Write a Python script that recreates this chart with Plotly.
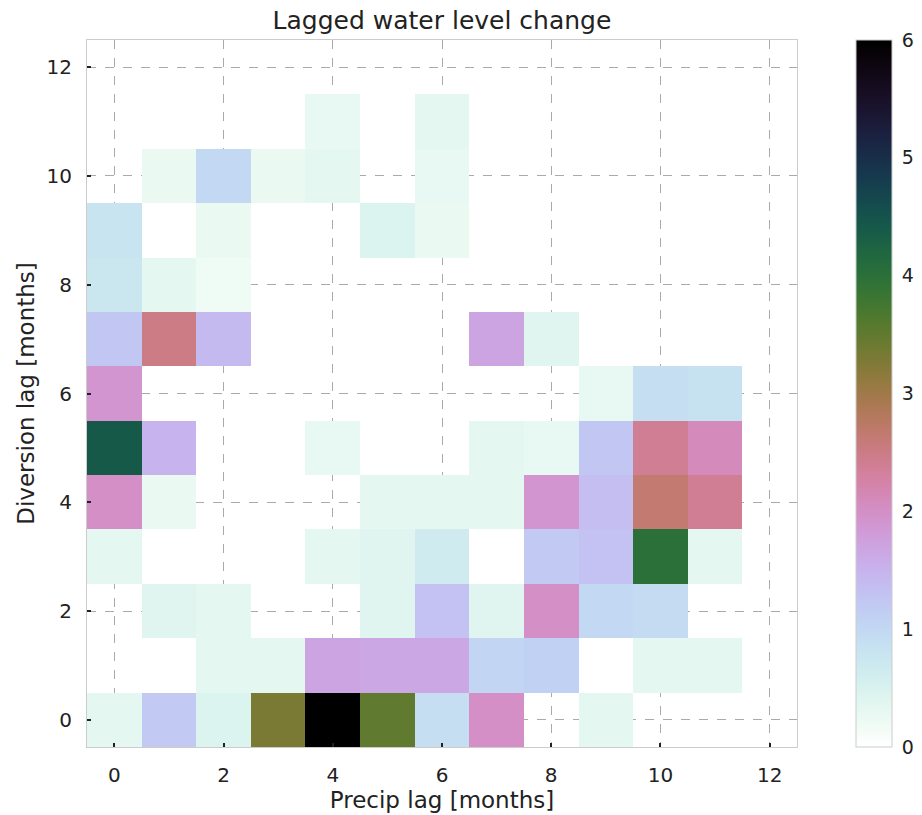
import numpy as np
import plotly.graph_objects as go

precip_lags = list(range(13))
diversion_lags = list(range(13))

# rows: diversion lag 0..12 ; columns: precip lag 0..12 (None = empty)
N = None
row0 = [0.35, 1.2, 0.45, 3.3, 6.0, 3.5, 0.9, 2.0, N, 0.35, N, N, N]
row1 = [N, N, 0.35, 0.35, 1.7, 1.65, 1.65, 1.05, 1.1, N, 0.35, 0.35, N]
row2 = [N, 0.4, 0.35, N, N, 0.4, 1.3, 0.4, 2.0, 1.0, 0.95, N, N]
row3 = [0.35, N, N, N, 0.35, 0.4, 0.65, N, 1.2, 1.3, 4.0, 0.35, N]
row4 = [2.0, 0.25, N, N, N, 0.35, 0.35, 0.35, 1.9, 1.35, 2.65, 2.4, N]
row5 = [4.4, 1.5, N, N, 0.3, N, N, 0.35, 0.3, 1.25, 2.4, 2.1, N]
row6 = [1.9, N, N, N, N, N, N, N, N, 0.3, 0.9, 0.85, N]
row7 = [1.25, 2.5, 1.4, N, N, N, N, 1.7, 0.4, N, N, N, N]
row8 = [0.75, 0.35, 0.2, N, N, N, N, N, N, N, N, N, N]
row9 = [0.8, N, 0.25, N, N, 0.45, 0.25, N, N, N, N, N, N]
row10 = [N, 0.25, 1.0, 0.25, 0.35, N, 0.3, N, N, N, N, N, N]
row11 = [N, N, N, N, 0.3, N, 0.35, N, N, N, N, N, N]
row12 = [N] * 13
z = [row0, row1, row2, row3, row4, row5, row6, row7, row8, row9, row10, row11, row12]

tick_vals = [0, 2, 4, 6, 8, 10, 12]
cbar_ticks = [0, 1, 2, 3, 4, 5, 6]


def cubehelix_r(t, gamma=1.0, s=0.5, r=-1.5, h=1.0):
    x = 1.0 - t
    xg = x ** gamma
    a = h * xg * (1 - xg) / 2
    phi = 2 * np.pi * (s / 3 + r * x)
    R = xg + a * (-0.14861 * np.cos(phi) + 1.78277 * np.sin(phi))
    G = xg + a * (-0.29227 * np.cos(phi) - 0.90649 * np.sin(phi))
    B = xg + a * (1.97294 * np.cos(phi))
    c = [int(round(255 * min(1, max(0, v)))) for v in (R, G, B)]
    return "rgb(%d,%d,%d)" % tuple(c)


colorscale = [[i / 64, cubehelix_r(i / 64)] for i in range(65)]

fig = go.Figure(go.Heatmap(
    x=precip_lags, y=diversion_lags, z=z,
    colorscale=colorscale, zmin=0, zmax=6,
    colorbar=dict(
        x=1.0831, xanchor="left", xpad=0, thickness=36, len=1.0, lenmode="fraction",
        y=0.5, yanchor="middle", ypad=0,
        outlinewidth=1, outlinecolor="#cccccc",
        tickvals=cbar_ticks, ticks="outside", ticklen=6, tickcolor="rgba(0,0,0,0)",
        tickfont=dict(size=19, color="#222"),
    ),
    hoverongaps=False,
))

axis_common = dict(
    range=[-0.5, 12.5], tickvals=tick_vals, showgrid=True,
    gridcolor="#aaaaaa", griddash="dash", gridwidth=1,
    zeroline=False, showline=True, linecolor="#cccccc", linewidth=1, mirror=True,
    ticks="inside", ticklen=4, tickcolor="#222", tickwidth=1.5,
    tickfont=dict(size=20, color="#222"), layer="above traces",
)

fig.update_layout(
    width=922, height=815,
    margin=dict(l=87, r=125, t=40, b=68, autoexpand=False),
    paper_bgcolor="white", plot_bgcolor="white",
    font=dict(family="DejaVu Sans", color="#222"),
    title=dict(text="Lagged water level change", x=0.5, xref="paper", xanchor="center",
               y=1 - 20 / 815, yref="container", yanchor="middle", font=dict(size=25)),
    xaxis=dict(title=dict(text="Precip lag [months]", font=dict(size=23), standoff=4),
               ticklabelstandoff=10, **axis_common),
    yaxis=dict(title=dict(text="Diversion lag [months]", font=dict(size=23), standoff=5),
               ticklabelstandoff=10, **axis_common),
)

fig.write_html("out.html")
